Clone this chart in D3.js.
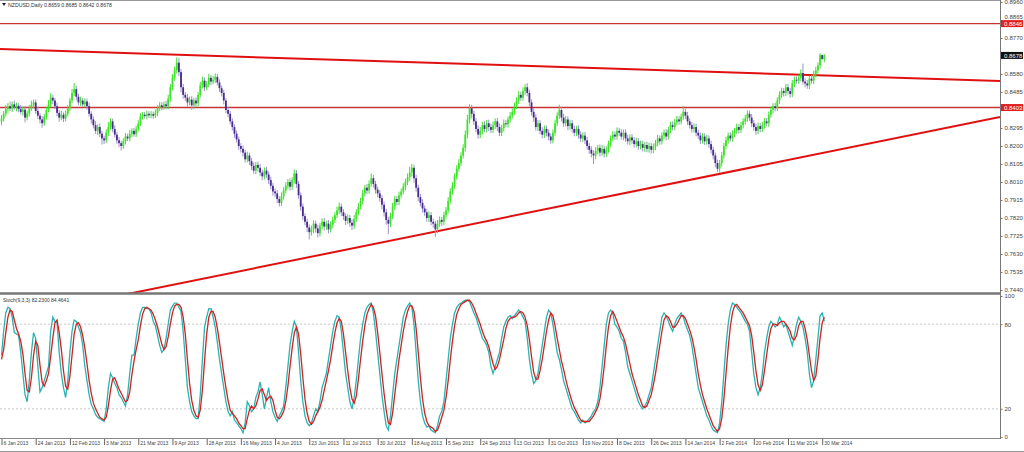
<!DOCTYPE html>
<html><head><meta charset="utf-8">
<script src="https://cdn.jsdelivr.net/npm/d3@7"></script>
<style>body{margin:0;background:#fff}svg{display:block}text{font-family:"Liberation Sans",Arial,sans-serif}</style>
</head><body><svg id="c" width="1024" height="452"></svg>
<script>
const symbolTitle = "NZDUSD,Daily 0.8659 0.8685 0.8642 0.8678";
const stochTitle = "Stoch(9,3,3) 82.2300 84.4641";
const firstDate = "2013-01-06";
const firstOpen = 0.8330;
const closes = [
0.8345,0.8370,0.8395,0.8410,0.8398,0.8420,0.8405,0.8412,0.8395,0.8380,0.8392,0.8350,0.8372,0.8398,0.8418,0.8430,
0.8385,0.8360,0.8340,0.8320,0.8355,0.8390,0.8420,0.8455,0.8440,0.8410,0.8375,0.8350,0.8365,0.8345,0.8370,0.8400,
0.8440,0.8480,0.8500,0.8460,0.8430,0.8440,0.8420,0.8435,0.8410,0.8370,0.8340,0.8310,0.8280,0.8300,0.8265,0.8240,
0.8230,0.8270,0.8300,0.8330,0.8290,0.8260,0.8230,0.8215,0.8200,0.8225,0.8250,0.8240,0.8265,0.8280,0.8262,0.8290,
0.8320,0.8355,0.8365,0.8358,0.8370,0.8362,0.8368,0.8360,0.8375,0.8400,0.8415,0.8405,0.8420,0.8410,0.8450,0.8510,
0.8560,0.8600,0.8640,0.8590,0.8510,0.8470,0.8455,0.8430,0.8445,0.8415,0.8440,0.8425,0.8470,0.8520,0.8545,0.8510,
0.8525,0.8560,0.8540,0.8550,0.8565,0.8535,0.8505,0.8480,0.8440,0.8390,0.8370,0.8330,0.8300,0.8265,0.8235,0.8200,
0.8185,0.8165,0.8130,0.8150,0.8120,0.8095,0.8070,0.8100,0.8085,0.8060,0.8040,0.8070,0.8050,0.8020,0.7990,0.7960,
0.7950,0.7920,0.7900,0.7935,0.7965,0.7990,0.8010,0.7985,0.8020,0.8055,0.8000,0.7940,0.7880,0.7830,0.7800,0.7770,
0.7745,0.7760,0.7790,0.7765,0.7740,0.7780,0.7800,0.7775,0.7790,0.7760,0.7785,0.7810,0.7835,0.7860,0.7880,0.7850,
0.7830,0.7805,0.7820,0.7795,0.7780,0.7815,0.7850,0.7880,0.7910,0.7950,0.7980,0.7965,0.8000,0.8030,0.8000,0.7970,
0.7950,0.7925,0.7890,0.7850,0.7810,0.7790,0.7830,0.7880,0.7920,0.7905,0.7940,0.7960,0.7985,0.8010,0.8035,0.8060,
0.8085,0.8030,0.7980,0.7930,0.7900,0.7870,0.7850,0.7820,0.7835,0.7800,0.7790,0.7760,0.7790,0.7810,0.7800,0.7835,
0.7860,0.7910,0.7960,0.7990,0.8040,0.8080,0.8110,0.8150,0.8190,0.8260,0.8340,0.8400,0.8370,0.8330,0.8290,0.8260,
0.8280,0.8310,0.8290,0.8320,0.8300,0.8285,0.8310,0.8330,0.8300,0.8270,0.8295,0.8320,0.8315,0.8340,0.8360,0.8380,
0.8410,0.8440,0.8470,0.8455,0.8490,0.8510,0.8480,0.8430,0.8380,0.8350,0.8300,0.8320,0.8280,0.8260,0.8290,0.8270,
0.8250,0.8230,0.8270,0.8320,0.8360,0.8390,0.8350,0.8320,0.8340,0.8305,0.8320,0.8290,0.8270,0.8290,0.8260,0.8240,
0.8255,0.8230,0.8200,0.8180,0.8160,0.8150,0.8175,0.8190,0.8165,0.8185,0.8160,0.8180,0.8210,0.8240,0.8260,0.8250,
0.8280,0.8270,0.8250,0.8270,0.8240,0.8225,0.8245,0.8230,0.8210,0.8225,0.8200,0.8210,0.8190,0.8205,0.8185,0.8200,
0.8180,0.8195,0.8215,0.8240,0.8225,0.8255,0.8270,0.8250,0.8285,0.8310,0.8300,0.8325,0.8340,0.8330,0.8355,0.8380,
0.8360,0.8330,0.8310,0.8290,0.8300,0.8270,0.8255,0.8230,0.8250,0.8225,0.8240,0.8210,0.8180,0.8150,0.8110,0.8080,
0.8110,0.8150,0.8200,0.8230,0.8255,0.8240,0.8265,0.8280,0.8300,0.8285,0.8310,0.8330,0.8345,0.8370,0.8350,0.8320,
0.8300,0.8280,0.8305,0.8290,0.8310,0.8330,0.8320,0.8365,0.8390,0.8410,0.8400,0.8440,0.8470,0.8490,0.8480,0.8510,
0.8490,0.8475,0.8530,0.8550,0.8545,0.8560,0.8585,0.8540,0.8530,0.8520,0.8555,0.8545,0.8580,0.8600,0.8625,0.8680,0.8659,0.8678];
// wick extents in pips above max(open,close) / below min(open,close)
const wickUp = [
18,14,21,16,24,15,20,17,13,22,16,19,14,18,21,15,
16,20,14,18,15,17,22,24,16,14,19,15,21,13,18,16,
15,21,32,18,16,20,14,17,15,19,13,16,21,14,18,15,
14,18,26,16,15,19,14,17,13,16,18,15,20,14,16,18,
16,18,14,15,17,13,16,14,18,15,17,16,14,19,21,18,
20,18,28,24,16,18,15,20,16,18,14,17,15,19,21,16,
18,21,16,20,18,15,17,14,16,13,18,15,16,14,17,15,
15,18,16,20,15,17,19,16,18,21,15,17,20,16,18,15,
16,18,15,20,17,18,16,19,15,21,18,16,15,17,14,16,
16,20,18,17,19,15,18,21,16,19,17,18,15,20,22,16,
17,15,19,16,18,20,16,18,17,19,15,20,18,26,17,16,
16,18,15,17,19,16,18,20,17,16,19,15,18,17,20,30,
21,16,18,15,17,19,16,18,20,16,17,15,19,18,16,17,
18,20,17,19,16,18,21,17,19,22,24,20,18,16,17,19,
20,18,21,17,19,18,20,16,18,19,17,20,18,16,19,18,
18,16,19,17,20,16,22,18,16,19,17,18,16,20,18,17,
18,16,17,19,18,28,17,20,18,16,19,17,18,16,19,18,
17,19,18,16,18,17,19,16,18,20,17,19,18,16,18,17,
18,16,19,17,18,20,16,18,17,19,16,18,17,16,18,17,
16,18,17,19,16,18,17,19,16,18,20,17,19,18,16,32,
18,20,17,16,19,18,17,16,18,17,19,16,18,17,16,18,
16,18,17,19,16,18,17,16,18,17,19,16,18,18,17,19,
18,17,19,16,18,17,18,16,19,16,18,17,19,18,16,18,
18,17,19,16,18,17,19,50,17,18,16,19,17,18,16,10,3,7];
const wickDn = [
21,16,14,20,15,18,13,22,17,14,20,26,15,16,12,19,
15,18,21,24,14,16,13,17,20,15,18,22,14,19,16,13,
17,14,16,20,15,18,13,16,19,15,21,17,16,22,18,32,
20,15,17,14,18,16,19,21,24,15,17,14,16,18,13,15,
14,15,16,13,17,14,15,16,13,18,15,17,14,16,15,17,
16,15,18,21,26,20,17,22,16,24,18,21,15,14,17,20,
16,14,18,15,17,16,20,18,21,17,19,16,18,22,17,20,
19,21,18,16,20,22,17,19,21,18,20,16,18,21,19,22,
20,22,19,16,18,15,17,20,16,18,21,19,22,20,18,24,
38,18,20,22,24,17,19,21,18,20,16,18,17,15,19,20,
20,22,18,21,24,18,16,17,15,18,16,19,17,15,20,21,
21,19,24,22,26,55,18,16,19,17,18,16,15,17,16,18,
20,24,21,22,19,21,18,20,22,19,21,40,20,18,21,17,
18,16,15,17,16,18,15,17,16,18,20,21,24,20,18,22,
18,20,17,19,21,18,16,20,22,18,17,19,16,18,17,15,
16,15,18,17,16,19,18,21,20,22,19,21,18,20,17,19,
20,18,16,17,15,18,20,19,17,21,18,20,19,18,21,19,
18,20,19,21,20,45,19,18,21,17,20,18,16,17,15,18,
17,18,16,19,18,17,20,18,19,17,20,18,19,21,18,20,
20,18,17,16,19,17,18,20,16,17,18,16,17,18,16,17,
18,19,17,20,18,19,18,20,17,19,18,20,19,21,22,18,
21,18,16,17,18,16,17,18,16,19,17,18,16,17,18,20,
19,21,18,17,16,18,17,19,16,18,17,16,18,17,19,17,
18,20,17,19,16,18,17,16,20,18,19,16,18,17,16,15,5,17];
const stochK = [
58,75,88,92,91,85,74,73,72,60,45,30,25,40,60,74,
70,50,32,35,40,45,50,75,85,82,81,60,45,35,28,40,
60,75,83,82,78,74,65,50,40,30,23,20,16,14,13,12,
11,20,35,45,42,38,35,30,28,25,22,30,45,58,58,70,
80,88,92,92,91,91,88,82,79,72,65,60,62,70,80,90,
93,95,95,92,89,75,55,35,25,18,15,13,13,30,55,78,
85,91,91,85,78,67,55,45,35,25,18,15,18,12,10,8,
6,3,10,25,22,18,20,28,32,39,30,20,28,35,25,18,
14,11,15,18,22,35,50,65,75,82,78,60,40,25,15,10,
8,10,15,20,18,25,35,40,45,55,65,75,82,86,85,75,
60,45,35,25,20,28,40,55,70,80,88,92,94,95,88,75,
60,45,30,18,8,5,15,30,45,55,65,75,85,90,93,95,
92,80,60,40,25,15,10,7,8,5,4,3,8,15,18,25,
40,55,70,80,88,92,94,95,96,97,97,96,92,88,85,80,
75,70,68,65,60,50,45,50,55,60,70,78,82,85,86,84,
86,88,90,88,85,82,70,55,45,38,40,45,55,65,75,85,
90,88,80,70,60,55,48,40,35,30,25,20,18,15,12,10,
12,10,11,13,15,18,20,25,35,50,65,80,88,90,88,80,
78,75,70,68,60,50,45,40,35,30,25,22,20,22,25,30,
35,45,55,65,75,85,88,86,82,78,75,80,84,86,88,85,
80,76,72,65,55,45,35,30,25,20,15,12,8,5,4,3,
10,25,45,65,80,90,95,94,92,90,88,85,82,80,75,60,
45,35,30,35,45,60,70,78,82,80,78,80,85,82,78,80,
75,70,65,72,80,85,82,78,70,60,45,35,40,55,70,86,88,82];
const stochD = [
55,62,74,85,90,89,83,77,73,68,59,45,33,32,42,58,
68,65,51,39,36,40,45,57,70,81,83,74,62,47,36,34,
43,58,73,80,81,78,72,63,52,40,31,24,20,17,14,13,
12,14,22,33,41,42,38,34,31,28,25,26,32,44,54,62,
69,79,87,91,92,91,90,87,83,78,72,66,62,64,71,80,
88,93,94,94,92,85,73,55,38,26,19,15,14,19,33,54,
73,85,89,89,85,77,67,56,45,35,26,19,17,15,13,10,
8,6,6,13,19,22,20,22,27,33,34,30,26,28,29,26,
19,14,13,15,18,25,36,50,63,74,78,73,59,42,27,17,
11,9,11,15,18,21,26,33,40,47,55,65,74,81,84,82,
73,60,47,35,27,24,29,41,55,68,79,87,91,94,92,86,
74,60,45,31,19,10,9,17,30,43,55,65,75,83,89,93,
93,89,77,60,42,27,17,11,8,7,6,4,5,9,14,19,
28,40,55,68,79,87,91,94,95,96,97,97,95,92,88,84,
80,75,71,68,64,58,52,48,50,55,62,69,77,82,84,85,
85,86,88,89,88,85,79,69,57,46,41,41,47,55,65,75,
83,88,86,79,70,62,54,48,41,35,30,25,21,18,15,12,
11,11,11,11,13,15,18,21,27,37,50,65,78,86,89,86,
82,78,74,71,66,59,52,45,40,35,30,26,22,21,22,26,
30,37,45,55,65,75,83,86,85,82,78,78,80,83,86,86,
84,80,76,71,64,55,45,37,30,25,20,16,12,8,6,4,
6,13,27,45,63,78,88,93,94,92,90,88,85,82,79,72,
60,47,37,33,37,47,58,69,77,80,80,79,81,82,82,80,
78,75,70,69,72,79,82,82,77,69,58,47,40,43,55,70,81,85];
const priceTicks = [0.8960,0.8865,0.8770,0.8675,0.8580,0.8485,0.8390,0.8295,0.8200,0.8105,0.8010,0.7915,0.7820,0.7725,0.7630,0.7535,0.7440];
const stochTicks = [100,80,20,0];
const stochLevels = [80,20];
const dateTickLabels = ["6 Jan 2013","24 Jan 2013","12 Feb 2013","3 Mar 2013","21 Mar 2013","9 Apr 2013","28 Apr 2013","16 May 2013","4 Jun 2013","23 Jun 2013","11 Jul 2013","30 Jul 2013","18 Aug 2013","5 Sep 2013","24 Sep 2013","13 Oct 2013","31 Oct 2013","19 Nov 2013","8 Dec 2013","26 Dec 2013","14 Jan 2014","2 Feb 2014","20 Feb 2014","11 Mar 2014","30 Mar 2014"];
const levelLines = [0.8846, 0.8403];
const lastPrice = 0.8678;
const trendDown = [[82,0.8682],[367,0.8579]];
const trendUp = [[203,0.7748],[335,0.8050]];

// ---- build ----
const n = closes.length;
const parse = d3.timeParse("%Y-%m-%d"), fmt = d3.timeFormat("%-d %b %Y");
const dates = []; let d = parse(firstDate);
while (dates.length < n + 2) { if (d.getDay() !== 6) dates.push(new Date(d)); d = d3.timeDay.offset(d, 1); }
const bars = closes.map((c, i) => {
  const o = i === 0 ? firstOpen : closes[i-1];
  return {i, o, c, h: Math.max(o,c) + wickUp[i]/1e4, l: Math.min(o,c) - wickDn[i]/1e4};
});

const W = 1000, mainTop = 0, mainBot = 293, stTop = 295, stBot = 438;
const svg = d3.select("#c");
svg.append("rect").attr("width",1024).attr("height",452).attr("fill","#fff");
const x = d3.scaleLinear().domain([0,384]).range([1,821.7]);
const y = d3.scaleLinear().domain([0.7440,0.8960]).range([290,2]);
const ys = d3.scaleLinear().domain([0,100]).range([437,296]);

const defs = svg.append("defs");
defs.append("clipPath").attr("id","cm").append("rect").attr("x",0).attr("y",mainTop).attr("width",W).attr("height",mainBot-mainTop);
defs.append("clipPath").attr("id","cs").append("rect").attr("x",0).attr("y",stTop).attr("width",W).attr("height",stBot-stTop);

const gm = svg.append("g").attr("clip-path","url(#cm)");
gm.selectAll("line.lv").data(levelLines).join("line").attr("class","lv")
  .attr("x1",0).attr("x2",W).attr("y1",v=>y(v)).attr("y2",v=>y(v))
  .attr("stroke","#c83434").attr("stroke-width",1.4);
function tl(p){ const [a,b]=p; const f=i=>a[1]+(b[1]-a[1])*(i-a[0])/(b[0]-a[0]);
  const i0=x.invert(0), i1=x.invert(W); return [[i0,f(i0)],[i1,f(i1)]]; }
gm.selectAll("line.tl").data([trendDown,trendUp].map(tl)).join("line").attr("class","tl")
  .attr("x1",p=>x(p[0][0])).attr("y1",p=>y(p[0][1])).attr("x2",p=>x(p[1][0])).attr("y2",p=>y(p[1][1]))
  .attr("stroke","#e01010").attr("stroke-width",2);
const bull="#3fe22a", bear="#4a2a8a", bearWick="#9d92d6";
gm.selectAll("line.w").data(bars).join("line").attr("class","w")
  .attr("x1",b=>x(b.i)+0.5).attr("x2",b=>x(b.i)+0.5).attr("y1",b=>y(b.h)).attr("y2",b=>y(b.l))
  .attr("stroke",b=>b.c>=b.o?bull:bearWick).attr("stroke-width",1);
gm.selectAll("rect.b").data(bars).join("rect").attr("class","b")
  .attr("x",b=>x(b.i)-0.4).attr("width",1.8)
  .attr("y",b=>y(Math.max(b.o,b.c))).attr("height",b=>Math.max(1,Math.abs(y(b.o)-y(b.c))))
  .attr("fill",b=>b.c>=b.o?bull:bear);

const gs = svg.append("g").attr("clip-path","url(#cs)");
gs.selectAll("line.sl").data(stochLevels).join("line").attr("class","sl")
  .attr("x1",0).attr("x2",W).attr("y1",v=>ys(v)).attr("y2",v=>ys(v))
  .attr("stroke","#c8c8c8").attr("stroke-dasharray","2,2").attr("stroke-width",1);
const ln = d3.line().x((v,i)=>x(i)+0.5).y(v=>ys(v));
gs.append("path").datum(stochK).attr("d",ln).attr("fill","none").attr("stroke","#2ab3b0").attr("stroke-width",1.3);
gs.append("path").datum(stochD).attr("d",ln).attr("fill","none").attr("stroke","#d42020").attr("stroke-width",1.3);

svg.append("line").attr("x1",0).attr("x2",W).attr("y1",0.5).attr("y2",0.5).attr("stroke","#999");
svg.append("line").attr("x1",0).attr("x2",W+1).attr("y1",293.5).attr("y2",293.5).attr("stroke","#777").attr("stroke-width",2.5);
svg.append("line").attr("x1",0).attr("x2",W+1).attr("y1",438.5).attr("y2",438.5).attr("stroke","#888");
svg.append("line").attr("x1",0).attr("x2",1024).attr("y1",451.5).attr("y2",451.5).attr("stroke","#999");
svg.append("line").attr("x1",W+0.5).attr("x2",W+0.5).attr("y1",0).attr("y2",439).attr("stroke","#777");

// level tags; axis labels lying under a tag are covered by it (as in the terminal)
const tags = levelLines.map(v=>({v,bg:"#e02020"})).concat([{v:lastPrice,bg:"#111"}]);
const ay = svg.append("g").attr("transform",`translate(${W+0.5},0)`)
  .call(d3.axisRight(y).tickValues(priceTicks).tickFormat(d3.format(".4f")).tickSize(2).tickPadding(2));
ay.select(".domain").remove();
ay.selectAll("text").attr("font-size",6).attr("fill","#444")
  .attr("display", v => tags.some(t => Math.abs(y(t.v)-y(v)) < 3) ? "none" : null)
  .attr("dy", v => { const t = tags.find(t => Math.abs(y(t.v)-y(v)) < 7.5);
     if (!t) return "0.32em"; const gap = y(v) - y(t.v); return (gap < 0 ? -3.6 : 4.0) + 2 + "px"; });
ay.selectAll("line").attr("stroke","#777");
const as = svg.append("g").attr("transform",`translate(${W+0.5},0)`)
  .call(d3.axisRight(ys).tickValues(stochTicks).tickSize(2).tickPadding(2));
as.select(".domain").remove();
as.selectAll("text").attr("font-size",6).attr("fill","#444");
as.selectAll("line").attr("stroke","#777");
const tg = svg.selectAll("g.tag").data(tags).join("g").attr("class","tag").attr("transform",t=>`translate(${W+1},${y(t.v)})`);
tg.append("rect").attr("x",0).attr("y",-3.5).attr("width",22).attr("height",7).attr("fill",t=>t.bg);
tg.append("text").attr("x",3).attr("y",2.1).attr("font-size",6).attr("fill","#fff").text(t=>d3.format(".4f")(t.v));

const tickIdx = dateTickLabels.map(s => dates.findIndex(dd => fmt(dd) === s));
const ax = svg.append("g").attr("transform",`translate(0,439)`)
  .call(d3.axisBottom(x).tickValues(tickIdx).tickSize(6).tickFormat((v,k)=>dateTickLabels[k]));
ax.select(".domain").remove();
ax.selectAll("line").attr("stroke","#666").attr("transform","translate(0.5,0)");
ax.selectAll("text").attr("text-anchor","start").attr("dx",2).attr("dy",-3.2).attr("font-size",5).attr("fill","#444");

svg.append("path").attr("d","M2,3 L6,3 L4,6 Z").attr("fill","#222");
svg.append("text").attr("x",8).attr("y",7).attr("font-size",5.2).attr("fill","#333").text(symbolTitle);
svg.append("text").attr("x",3).attr("y",302).attr("font-size",5).attr("fill","#333").text(stochTitle);
</script></body></html>
